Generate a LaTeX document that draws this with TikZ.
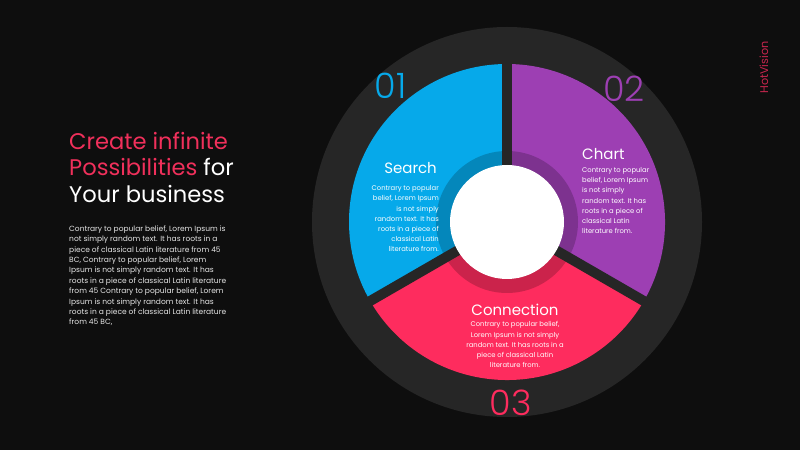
\documentclass[tikz,border=0pt]{standalone}
\usepackage{fontspec}
\setmainfont{Poppins}
\newfontfamily\lightfont{Poppins Light}
\definecolor{bgc}{HTML}{0E0E0E}
\definecolor{ringc}{HTML}{262626}
\definecolor{bluec}{HTML}{06A9EA}
\definecolor{purplec}{HTML}{9D3FB3}
\definecolor{pinkc}{HTML}{FE2C5E}
\definecolor{titlepink}{HTML}{F0305B}
\definecolor{brandc}{HTML}{C8264E}
\definecolor{parac}{HTML}{E6E6E6}
\tikzset{
  numtxt/.style={inner sep=0, font=\lightfont\fontsize{35}{40}\selectfont},
  segtitle/.style={inner sep=0, text=white, font=\fontsize{15}{18}\selectfont},
  segpara/.style={inner sep=0, text=white, font=\fontsize{6.8}{10.2}\selectfont},
  gapline/.style={line width=10pt, ringc}
}
\begin{document}
\begin{tikzpicture}[x=1pt,y=1pt]
\useasboundingbox (0,0) rectangle (800,450);
\fill[bgc] (0,0) rectangle (800,450);
\coordinate (C) at (507,228);
% outer dark disc
\fill[ringc] (C) circle[radius=195];
% segments
\fill[bluec] (C) -- ++(90:158) arc[start angle=90, end angle=210, radius=158] -- cycle;
\fill[purplec] (C) -- ++(-30:158) arc[start angle=-30, end angle=90, radius=158] -- cycle;
\fill[pinkc] (C) -- ++(210:158) arc[start angle=210, end angle=330, radius=158] -- cycle;
% inner darker ring
\fill[black, opacity=0.2, even odd rule] (C) circle[radius=71] (C) circle[radius=56];
% gaps
\draw[gapline] (C) -- ++(90:165);
\draw[gapline] (C) -- ++(210:165);
\draw[gapline] (C) -- ++(330:165);
% centre
\fill[white] (C) circle[radius=57];
% numbers
\node[numtxt, text=bluec] (n1) at (390.5,364.5) {01};
\node[numtxt, text=purplec] (n2) at (624,361) {02};
\node[numtxt, text=pinkc] (n3) at (511,47) {03};
% segment texts
\node[segtitle, anchor=base east] (t1) at (437,276.5) {Search};
\node[segpara, anchor=north east, align=right] (p1) at (439,264.5) {Contrary to popular\\belief, Lorem Ipsum\\is not simply\\random text. It has\\roots in a piece of\\classical Latin\\literature from.};
\node[segtitle, anchor=base west] (t2) at (582,290) {Chart};
\node[segpara, anchor=north west, align=left] (p2) at (582,282.8) {Contrary to popular\\belief, Lorem Ipsum\\is not simply\\random text. It has\\roots in a piece of\\classical Latin\\literature from.};
\node[segtitle, anchor=base] (t3) at (515,134.3) {Connection};
\node[segpara, anchor=north, align=center] (p3) at (515,128.4) {Contrary to popular belief,\\Lorem Ipsum is not simply\\random text. It has roots in a\\piece of classical Latin\\literature from.};
% left title
\node[inner sep=0, anchor=north west, align=left, font=\fontsize{22.6}{26.5}\selectfont] (title) at (69,318)
  {\textcolor{titlepink}{Create infinite}\\\textcolor{titlepink}{Possibilities} \textcolor{white}{for}\\\textcolor{white}{Your business}};
\node[inner sep=0, anchor=north west, align=left, text=parac, font=\fontsize{7.5}{10.4}\selectfont] (para) at (69,224.6)
  {Contrary to popular belief, Lorem Ipsum is\\not simply random text. It has roots in a\\piece of classical Latin literature from 45\\BC, Contrary to popular belief, Lorem\\Ipsum is not simply random text. It has\\roots in a piece of classical Latin literature\\from 45 Contrary to popular belief, Lorem\\Ipsum is not simply random text. It has\\roots in a piece of classical Latin literature\\from 45 BC,};
% brand
\node[inner sep=0, rotate=90, text=brandc, font=\fontsize{11.2}{13}\selectfont] (brand) at (764,382.5) {HotVision};
\end{tikzpicture}
\end{document}
